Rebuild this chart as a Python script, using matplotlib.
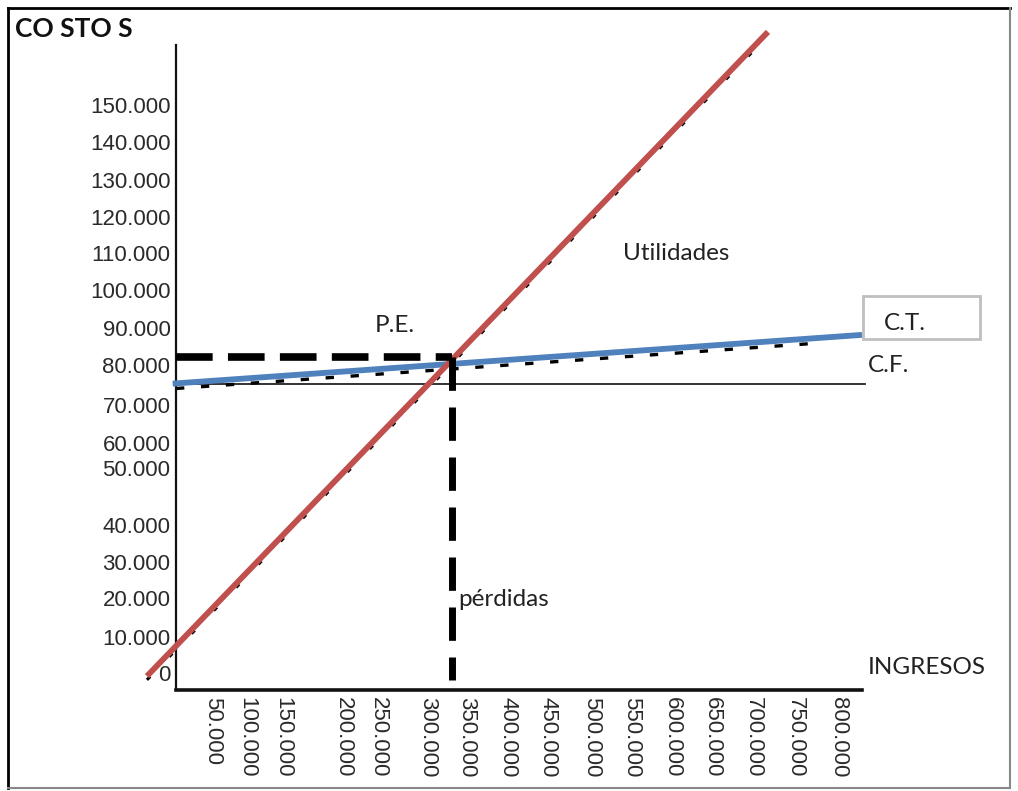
import matplotlib
matplotlib.use("Agg")
import matplotlib.pyplot as plt
from matplotlib.patches import Rectangle
from matplotlib.lines import Line2D

# ---- data (thousands) ----
x_tick_values = [50000, 100000, 150000, 200000, 250000, 300000, 350000, 400000,
                 450000, 500000, 550000, 600000, 650000, 700000, 750000, 800000]
x_tick_pos = [44.7, 85.9, 129.4, 201.9, 244.3, 304.7, 351.9, 401.5,
              449.8, 503.0, 551.4, 600.5, 648.9, 697.7, 748.5, 800.5]
y_tick_values = [0, 10000, 20000, 30000, 40000, 50000, 60000, 70000,
                 80000, 90000, 100000, 110000, 120000, 130000, 140000, 150000]
y_tick_pos = [-1.5, 8.1, 18.5, 28.1, 38.0, 53.2, 59.9, 70.0,
              80.7, 90.6, 100.7, 110.5, 120.1, 130.0, 140.1, 150.0]

ingresos_x = [-35.1, 715.8]
ingresos_y = [-2.3, 169.5]
ct_x = [-4.0, 829.5]
ct_y = [75.7, 88.7]
cf_x = [0.0, 833.0]
cf_y = [75.6, 75.6]
pe_x = 333.7
pe_y = 82.8

def fmt(v):
    return "0" if v == 0 else f"{v:,}".replace(",", ".")

W, H = 1018, 791
fig = plt.figure(figsize=(W / 100, H / 100), dpi=100)
fig.patch.set_facecolor("white")

def fx(px):
    return px / W

def fy(py):
    return 1 - py / H

ax = fig.add_axes([fx(176), fy(690), (862 - 176) / W, (690 - 45) / H])
ax.set_xlim(0, 829.5)
ax.set_ylim(-6, 166)
ax.set_facecolor("none")
for s in ["top", "right"]:
    ax.spines[s].set_visible(False)
ax.spines["left"].set_linewidth(1.6)
ax.spines["bottom"].set_linewidth(2.6)
ax.spines["left"].set_color("#111111")
ax.spines["bottom"].set_color("#111111")

ax.set_xticks(x_tick_pos)
ax.set_xticklabels([fmt(v) for v in x_tick_values], rotation=-90,
                   fontsize=16, family="Liberation Sans", color="#2a2a2a",
                   ha="center", va="top")
ax.set_yticks(y_tick_pos)
ax.set_yticklabels([fmt(v) for v in y_tick_values],
                   fontsize=16, family="Liberation Sans", color="#2a2a2a")
ax.tick_params(axis="both", length=0)
ax.tick_params(axis="x", pad=5)
ax.tick_params(axis="y", pad=4)

# fixed cost line
ax.plot(cf_x, cf_y, color="#222222", lw=1.3, clip_on=False, zorder=2)

# black dotted traces under coloured lines
ax.plot(ingresos_x, [v - 1.0 for v in ingresos_y], color="black", lw=2.2,
        dashes=(1.5, 9), clip_on=False, zorder=2)
ax.plot([0, 780], [ct_y[0] - 1.3, ct_y[0] - 1.3 + (ct_y[1] - ct_y[0]) * 780 / (ct_x[1] - ct_x[0])],
        color="black", lw=2.4, dashes=(2.5, 5), clip_on=False, zorder=2)

# total cost line
ax.plot(ct_x, ct_y, color="#4f81bd", lw=4.2, clip_on=False, zorder=3,
        solid_capstyle="butt")
# revenue line
ax.plot(ingresos_x, ingresos_y, color="#c0504d", lw=4.2, clip_on=False, zorder=4,
        solid_capstyle="butt")

# break-even dashed guides
ax.plot([0, pe_x], [pe_y, pe_y], color="black", lw=5.5, dashes=(4.8, 2.0),
        clip_on=False, zorder=5, dash_capstyle="butt")
ax.plot([pe_x, pe_x], [pe_y, -3.3], color="black", lw=5, dashes=(4.8, 2.4),
        clip_on=False, zorder=5, dash_capstyle="butt")

# texts
tf = ["Lato", "DejaVu Sans"]
fig.text(fx(15), fy(37), "CO STO S", fontsize=19, fontweight="bold",
         family=tf, color="#111111", va="baseline")
lab = dict(fontsize=17.5, family=tf, color="#222222", va="center")
fig.text(fx(623), fy(253), "Utilidades", **lab)
fig.text(fx(375), fy(326), "P.E.", **lab)
fig.text(fx(458), fy(600), "pérdidas", **lab)
fig.text(fx(868), fy(668), "INGRESOS", **lab)
fig.text(fx(884), fy(323), "C.T.", **lab)
fig.text(fx(868), fy(366), "C.F.", **lab)

# C.T. box
fig.patches.append(Rectangle((fx(863), fy(339)), (980 - 863) / W, (339 - 296) / H,
                             transform=fig.transFigure, fill=False,
                             edgecolor="#bfbfbf", lw=2))

# outer frame
fig.lines.append(Line2D([fx(8), fx(1010)], [fy(8), fy(8)], transform=fig.transFigure,
                        color="black", lw=2))
fig.lines.append(Line2D([fx(8), fx(8)], [fy(8), fy(788)], transform=fig.transFigure,
                        color="black", lw=2))
fig.lines.append(Line2D([fx(8), fx(1010)], [fy(788), fy(788)], transform=fig.transFigure,
                        color="#888888", lw=1.5))
fig.lines.append(Line2D([fx(1010), fx(1010)], [fy(8), fy(788)], transform=fig.transFigure,
                        color="#888888", lw=1.5))

fig.savefig("out.png", dpi=100)
